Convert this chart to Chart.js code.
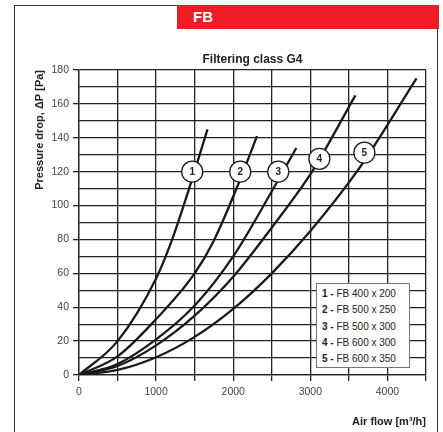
<!DOCTYPE html>
<html>
<head>
<meta charset="utf-8">
<script src="https://cdn.jsdelivr.net/npm/chart.js@4"></script>
<style>
  body { margin: 0; background: #fff; }
  #wrap { position: relative; width: 443px; height: 432px; overflow: hidden; font-family: "Liberation Sans", Arial, sans-serif; }
  #frame { position: absolute; left: 14px; top: 5px; width: 424px; height: 440px; border: 1.3px solid #333; border-bottom: none; box-sizing: border-box; }
  #header { position: absolute; left: 177px; top: 5px; right: 4px; height: 24px; background: #ee1c25; color: #fff; font: bold 15px "Liberation Sans", Arial, sans-serif; line-height: 24px; padding-left: 16px; }
  #chart { position: absolute; left: 0; top: 0; }
  #legendBox { position: absolute; left: 316px; top: 283px; width: 94px; height: 85px; box-sizing: border-box; border: 1px solid #777; background: #fff; padding: 2px 0 0 5px; font-size: 10px; line-height: 16.3px; color: #222; }
  #legendBox b { font-weight: bold; }
</style>
</head>
<body>
<div id="wrap">
  <div id="frame"></div>
  <div id="header">FB</div>
  <canvas id="chart" width="443" height="432"></canvas>
  <div id="legendBox"></div>
</div>
<script>
// air flow [m3/h] vs pressure drop [Pa]
const seriesNames = ['FB 400 x 200', 'FB 500 x 250', 'FB 500 x 300', 'FB 600 x 300', 'FB 600 x 350'];
const flow1 = [0, 500, 1000, 1200, 1442, 1666];
const dp1 = [0, 20, 57, 79, 112, 145];
const flow2 = [0, 500, 1000, 1500, 1745, 2069, 2308];
const dp2 = [0, 11, 33, 60, 79, 113, 141];
const flow3 = [0, 500, 1000, 1500, 2000, 2545, 2818];
const dp3 = [0, 6.5, 21, 41, 70, 112, 134];
const flow4 = [0, 500, 1000, 1500, 2000, 2500, 3022, 3584];
const dp4 = [0, 5.3, 17.5, 35, 58, 87, 120, 165];
const flow5 = [0, 500, 1000, 1500, 2000, 2500, 3000, 3649, 4377];
const dp5 = [0, 3, 10.5, 22.5, 39, 60, 85, 123, 175];

// where the numbered circles sit
const markFlow = [1468, 2091, 2584, 3117, 3701];
const markDp = [120, 120, 120, 127.6, 131.2];

const flows = [flow1, flow2, flow3, flow4, flow5];
const dps = [dp1, dp2, dp3, dp4, dp5];

const font = '"Liberation Sans", Arial, sans-serif';

document.getElementById('legendBox').innerHTML = seriesNames
  .map((n, i) => '<div><b>' + (i + 1) + ' -</b> ' + n + '</div>').join('');

const curveSets = flows.map((f, i) => ({
  label: seriesNames[i],
  data: f.map((x, j) => ({ x: x, y: dps[i][j] })),
  borderColor: '#1a1a1a',
  borderWidth: 2.3,
  pointRadius: 0,
  fill: false,
  cubicInterpolationMode: 'monotone'
}));

const markSet = {
  label: 'marks',
  data: markFlow.map((x, i) => ({ x: x, y: markDp[i] })),
  showLine: false,
  pointRadius: 10.5,
  pointBackgroundColor: '#fff',
  pointBorderColor: '#1a1a1a',
  pointBorderWidth: 1.3,
  order: -1
};

const labelPlugin = {
  id: 'labels',
  afterDatasetsDraw(chart) {
    const ctx = chart.ctx;
    const area = chart.chartArea;
    ctx.save();
    ctx.fillStyle = '#222';
    ctx.textAlign = 'center';
    ctx.textBaseline = 'middle';
    ctx.font = 'bold 12px ' + font;
    ctx.fillText('Filtering class G4', (area.left + area.right) / 2, area.top - 10);
    const meta = chart.getDatasetMeta(chart.data.datasets.length - 1);
    ctx.font = 'bold 10px ' + font;
    meta.data.forEach((pt, i) => ctx.fillText(String(i + 1), pt.x, pt.y + 0.5));
    ctx.restore();
  }
};

const gridColor = '#222';

new Chart(document.getElementById('chart').getContext('2d'), {
  type: 'line',
  data: { datasets: curveSets.concat([markSet]) },
  options: {
    responsive: false,
    animation: false,
    layout: { padding: { left: 0, top: 70, right: 17, bottom: 0 } },
    plugins: { legend: { display: false }, title: { display: false }, tooltip: { enabled: false } },
    scales: {
      x: {
        type: 'linear', min: 0, max: 4500,
        afterFit: s => { s.height = 57; },
        border: { color: gridColor, width: 1.3 },
        grid: { color: gridColor, lineWidth: 1.3, tickLength: 6, tickColor: gridColor },
        ticks: {
          stepSize: 500, autoSkip: false, maxRotation: 0, padding: 5,
          color: '#444', font: { family: font, size: 10.5 },
          callback: v => (v % 1000 === 0 ? v : '')
        },
        title: { display: true, text: 'Air flow [m³/h]', align: 'end', color: '#222', font: { family: font, size: 11, weight: 'bold' }, padding: { top: 0, bottom: 3 } }
      },
      y: {
        min: 0, max: 180,
        afterFit: s => { s.width = 79; },
        border: { color: gridColor, width: 1.3 },
        grid: {
          color: gridColor, lineWidth: 1.3, tickLength: 6,
          tickColor: c => (c.tick && c.tick.value % 20 === 0 ? gridColor : 'rgba(0,0,0,0)')
        },
        ticks: {
          stepSize: 10, autoSkip: false, padding: 4,
          color: '#444', font: { family: font, size: 10.5 },
          callback: v => (v % 20 === 0 ? v : '')
        },
        title: { display: true, text: 'Pressure drop, ΔP [Pa]', align: 'end', color: '#222', font: { family: font, size: 11, weight: 'bold' }, padding: { top: 33, bottom: 0 } }
      }
    }
  },
  plugins: [labelPlugin]
});
</script>
</body>
</html>
